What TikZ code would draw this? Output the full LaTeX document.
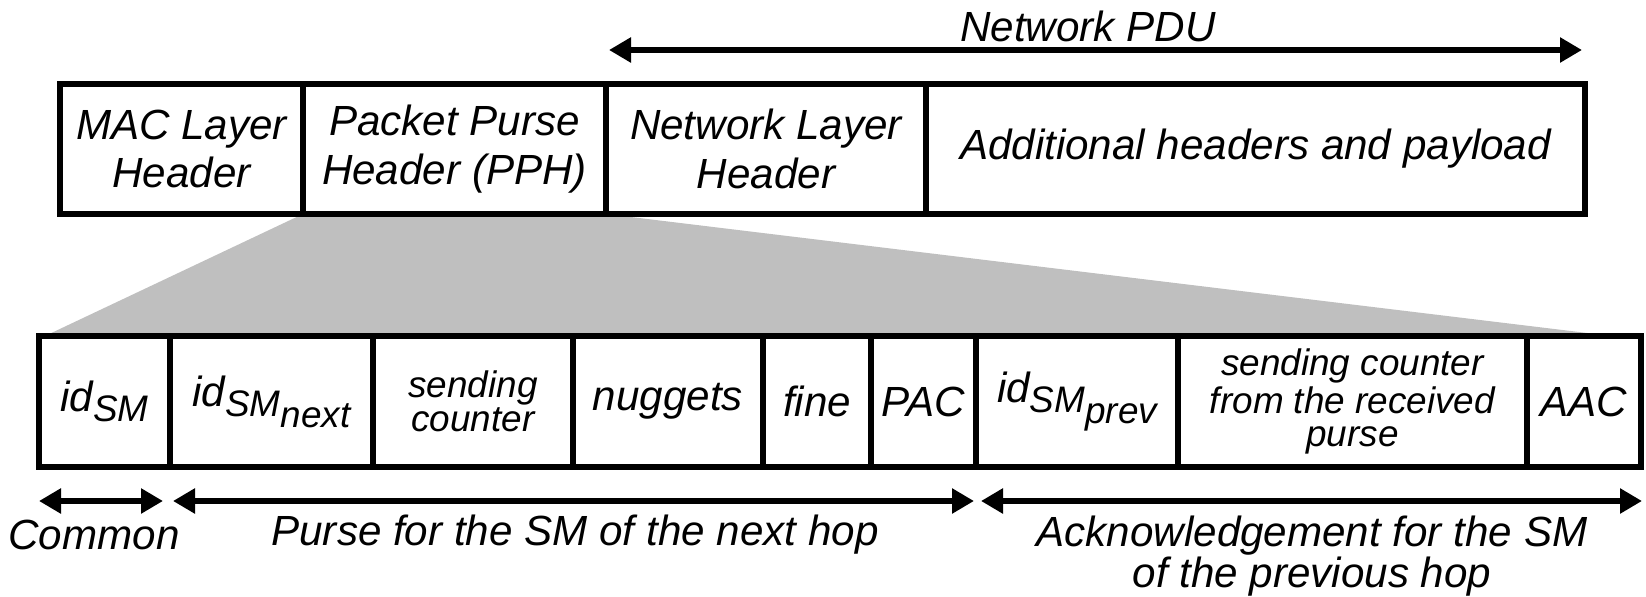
\documentclass[tikz,border=0pt]{standalone}
\usepackage{fontspec}
\setmainfont{Liberation Sans}
\usetikzlibrary{calc,arrows.meta}

\newcommand{\lowsub}[1]{\raisebox{-3pt}{\fontsize{10.5}{10.5}\selectfont #1}}

\begin{document}
\begin{tikzpicture}[x=0.1mm, y=-0.1mm,
	field/.style={font=\itshape\fontsize{12}{13.8}\selectfont, align=center, inner sep=0pt},
	tightfield/.style={font=\itshape\fontsize{10.5}{9.6}\selectfont, align=center, inner sep=0pt},
	caption/.style={font=\itshape\fontsize{12}{11.6}\selectfont, align=center, inner sep=0pt},
	frame/.style={line width=1.6pt},
	span/.style={line width=1.6pt, {Triangle[length=2.2mm,width=2.4mm]}-{Triangle[length=2.2mm,width=2.4mm]}}]

	\useasboundingbox (0,0) rectangle (1646,597);

	% ---- coordinates

	% -- packet fields
	\foreach \x [count=\i from 0] in {60,303,606,926,1585} {
		\coordinate (T\i) at (\x,84);
		\coordinate (t\i) at (\x,214);
	}

	% -- purse header fields
	\foreach \x [count=\i from 0] in {39,170,373,573,763,871,976,1178,1527,1641} {
		\coordinate (B\i) at (\x,336);
		\coordinate (b\i) at (\x,467);
	}

	% -- zoom wedge
	\coordinate (Z1) at (45,336);
	\coordinate (Z2) at (1612,336);

	% -- span arrows
	\coordinate (N1) at (609,50);
	\coordinate (N2) at (1582,50);
	\coordinate (C1) at (39,501);
	\coordinate (C2) at (163,501);
	\coordinate (P1) at (173,501);
	\coordinate (P2) at (974,501);
	\coordinate (A1) at (981,501);
	\coordinate (A2) at (1642,501);

	% ---- zoom wedge

	\fill[black!25] (t1) -- (t2) -- (Z2) -- (Z1) -- cycle;

	% ---- boxes

	\draw[frame] (T0) rectangle (t4);
	\foreach \i in {1,2,3} { \draw[frame] (T\i) -- (t\i); }

	\draw[frame] (B0) rectangle (b9);
	\foreach \i in {1,...,8} { \draw[frame] (B\i) -- (b\i); }

	% ---- field labels

	\node[field] (mac) at ($(T0)!0.5!(t1)$) {MAC Layer\\Header};
	\node[field] (pph) at ($(T1)!0.5!(t2)$) {Packet Purse\\Header (PPH)};
	\node[field] (net) at ($(T2)!0.5!(t3)$) {Network Layer\\Header};
	\node[field] (pay) at ($(T3)!0.5!(t4)$) {Additional headers and payload};

	\node[field] (idsm) at ($(B0)!0.5!(b1)$) {id\lowsub{SM}};
	\node[field] (idnext) at ($(B1)!0.5!(b2)$) {id\lowsub{SM\lowsub{next}}};
	\node[tightfield] (cnt) at ($(B2)!0.5!(b3)$) {sending\\counter};
	\node[field] (nug) at ($(B3)!0.5!(b4)$) {nuggets};
	\node[field] (fine) at ($(B4)!0.5!(b5)$) {fine};
	\node[field] (pac) at ($(B5)!0.5!(b6)$) {PAC};
	\node[field] (idprev) at ($(B6)!0.5!(b7)$) {id\lowsub{SM\lowsub{prev}}};
	\node[tightfield] (rcnt) at ($(B7)!0.5!(b8)$) {sending counter\\from the received\\purse};
	\node[field] (aac) at ($(B8)!0.5!(b9)$) {AAC};

	% ---- span arrows

	\draw[span] (N1) -- (N2);
	\draw[span] (C1) -- (C2);
	\draw[span] (P1) -- (P2);
	\draw[span] (A1) -- (A2);

	% ---- span labels

	\node[caption] (pdu) at (1088,26) {Network PDU};
	\node[caption] (common) at (94,535) {Common};
	\node[caption] (purse) at (575,535) {Purse for the SM of the next hop};
	\node[caption] (ack) at (1312,556) {Acknowledgement for the SM\\of the previous hop};

\end{tikzpicture}
\end{document}
